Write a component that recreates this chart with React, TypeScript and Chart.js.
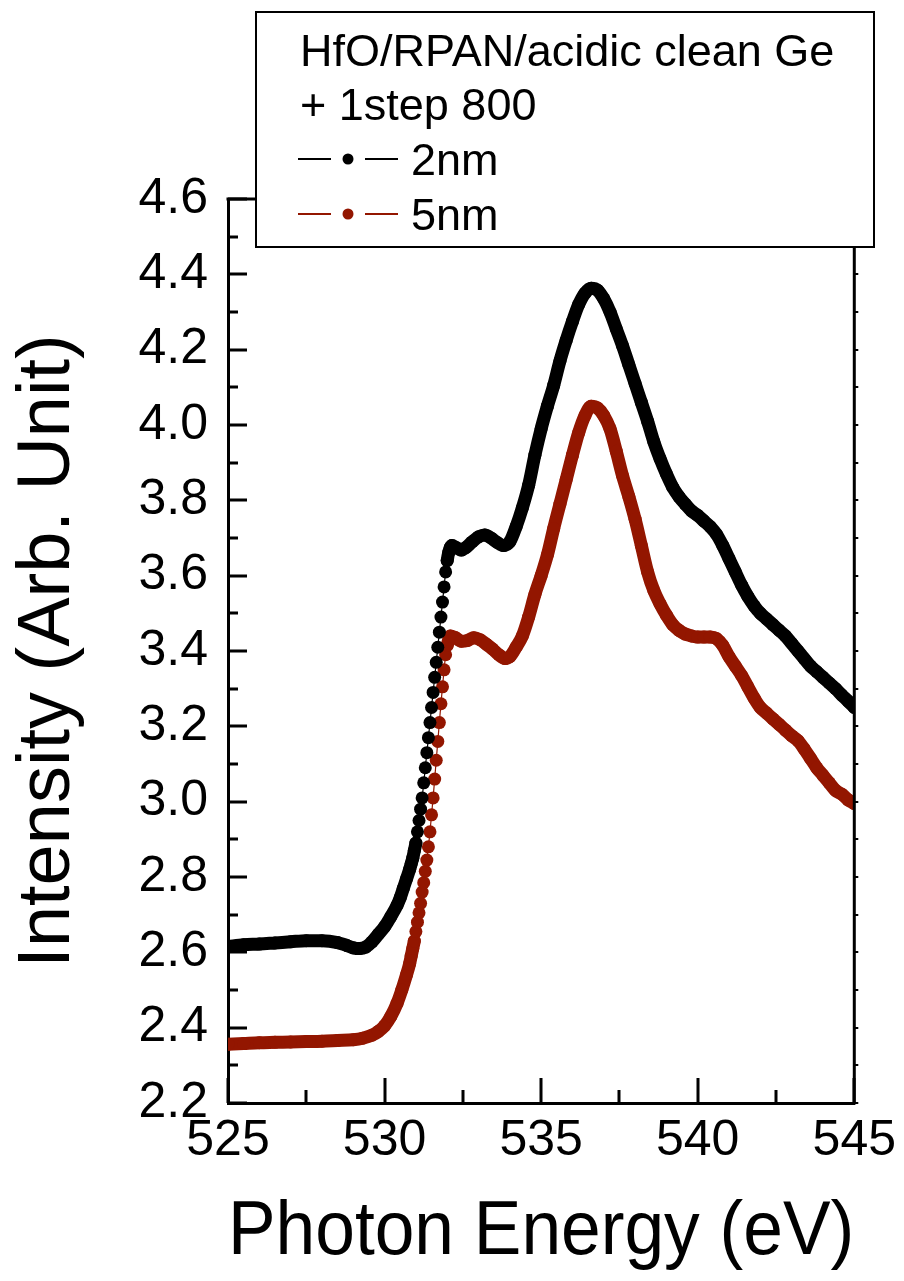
import React, { useEffect, useRef } from "react";
import { Chart, registerables } from "chart.js";

Chart.register(...registerables);

const FONT = '"Liberation Sans", Arial, Helvetica, sans-serif';

const LEGEND_TITLE = ["HfO/RPAN/acidic clean Ge", "+ 1step 800"];
const SERIES_LABELS = ["2nm", "5nm"];
const SERIES_COLORS = ["#000000", "#931600"];

const X_TITLE = "Photon Energy (eV)";
const Y_TITLE = "Intensity (Arb. Unit)";
const X_TICKS = [525, 530, 535, 540, 545];
const Y_TICKS = [2.2, 2.4, 2.6, 2.8, 3.0, 3.2, 3.4, 3.6, 3.8, 4.0, 4.2, 4.4, 4.6];

// 2nm series (black)
const energy2nm = [
  525.0, 525.5, 526.0, 526.5, 527.0, 527.5, 528.0, 528.5, 528.8, 529.0, 529.2, 529.4, 529.6, 529.8,
  530.0, 530.2, 530.4, 530.5, 530.6, 530.7, 530.8, 530.85, 530.9, 530.95, 531.0, 531.05, 531.1,
  531.15, 531.2, 531.25, 531.3, 531.35, 531.4, 531.45, 531.5, 531.55, 531.6, 531.65, 531.7, 531.75,
  531.8, 531.85, 531.9, 531.95, 532.0, 532.05, 532.1, 532.15, 532.3, 532.45, 532.6, 532.8, 533.0,
  533.2, 533.4, 533.6, 533.8, 534.0, 534.2, 534.4, 534.6, 534.8, 535.0, 535.2, 535.4, 535.6, 535.8,
  536.0, 536.2, 536.4, 536.6, 536.8, 537.0, 537.2, 537.4, 537.6, 537.8, 538.0, 538.2, 538.4, 538.6,
  538.8, 539.0, 539.2, 539.4, 539.6, 539.8, 540.0, 540.2, 540.4, 540.6, 540.8, 541.0, 541.2, 541.4,
  541.6, 541.8, 542.0, 542.2, 542.4, 542.6, 542.8, 543.0, 543.2, 543.4, 543.6, 543.8, 544.0, 544.2,
  544.4, 544.6, 544.8, 545.0,
];
const intensity2nm = [
  2.615, 2.62, 2.622, 2.625, 2.628, 2.631, 2.631, 2.626, 2.618, 2.612, 2.61, 2.614, 2.628, 2.648,
  2.668, 2.695, 2.725, 2.745, 2.77, 2.795, 2.82, 2.835, 2.85, 2.87, 2.89, 2.92, 2.95,
  2.98, 3.01, 3.05, 3.09, 3.13, 3.17, 3.21, 3.25, 3.29, 3.33, 3.37, 3.41, 3.45,
  3.49, 3.53, 3.57, 3.61, 3.64, 3.662, 3.675, 3.68, 3.674, 3.668, 3.675, 3.69, 3.703,
  3.708, 3.7, 3.688, 3.68, 3.69, 3.73, 3.78, 3.84, 3.92, 3.99, 4.05, 4.105, 4.17, 4.225,
  4.275, 4.32, 4.35, 4.363, 4.358, 4.335, 4.3, 4.255, 4.21, 4.16, 4.11, 4.06, 4.01, 3.955,
  3.91, 3.87, 3.835, 3.81, 3.79, 3.772, 3.76, 3.745, 3.73, 3.71, 3.68, 3.645, 3.61, 3.575,
  3.545, 3.52, 3.5, 3.485, 3.47, 3.455, 3.44, 3.42, 3.4, 3.38, 3.36, 3.345, 3.33, 3.315,
  3.3, 3.283, 3.267, 3.25,
];

// 5nm series (dark red)
const energy5nm = [
  525.0, 525.5, 526.0, 526.5, 527.0, 527.5, 528.0, 528.5, 529.0, 529.3, 529.6, 529.8, 530.0, 530.2,
  530.4, 530.55, 530.7, 530.8, 530.85, 530.9, 530.95, 531.0, 531.05, 531.1, 531.15, 531.2, 531.25,
  531.3, 531.35, 531.4, 531.45, 531.5, 531.55, 531.6, 531.65, 531.7, 531.75, 531.8, 531.85, 531.9,
  531.95, 532.0, 532.05, 532.1, 532.25, 532.45, 532.65, 532.85, 533.05, 533.25, 533.45, 533.65,
  533.85, 534.0, 534.2, 534.4, 534.6, 534.8, 535.0, 535.2, 535.4, 535.6, 535.8, 536.0, 536.2, 536.4,
  536.6, 536.8, 537.0, 537.2, 537.4, 537.6, 537.8, 538.0, 538.2, 538.4, 538.6, 538.8, 539.0, 539.2,
  539.4, 539.6, 539.8, 540.0, 540.2, 540.4, 540.6, 540.8, 541.0, 541.2, 541.4, 541.6, 541.8, 542.0,
  542.2, 542.4, 542.6, 542.8, 543.0, 543.2, 543.4, 543.6, 543.8, 544.0, 544.2, 544.4, 544.6, 544.8,
  545.0,
];
const intensity5nm = [
  2.356, 2.358, 2.36, 2.361, 2.362, 2.363, 2.364, 2.366, 2.368, 2.372, 2.38, 2.39, 2.405, 2.43,
  2.465, 2.5, 2.54, 2.57, 2.59, 2.61, 2.63, 2.655, 2.68, 2.705, 2.73, 2.76, 2.785,
  2.815, 2.845, 2.88, 2.92, 2.965, 3.01, 3.06, 3.11, 3.16, 3.21, 3.26, 3.305, 3.35,
  3.39, 3.415, 3.43, 3.44, 3.436, 3.426, 3.428, 3.435, 3.43, 3.418, 3.405, 3.39,
  3.38, 3.385, 3.41, 3.44, 3.49, 3.55, 3.6, 3.655, 3.725, 3.79, 3.855, 3.92, 3.98, 4.025,
  4.05, 4.045, 4.025, 3.99, 3.93, 3.865, 3.81, 3.75, 3.68, 3.61, 3.56, 3.525, 3.495, 3.47,
  3.455, 3.445, 3.44, 3.437, 3.437, 3.437, 3.433, 3.415, 3.385, 3.36, 3.335, 3.305, 3.275, 3.25,
  3.235, 3.22, 3.205, 3.19, 3.175, 3.162, 3.14, 3.115, 3.09, 3.07, 3.05, 3.03, 3.02, 3.005,
  2.995,
];

const toPoints = (xs: number[], ys: number[]) => xs.map((x, i) => ({ x, y: ys[i] }));

// segments where consecutive samples are far apart on screen show as separate dots
const sparseSegment = (c: any) => {
  const dx = Math.abs(c.p1.x - c.p0.x);
  const d = Math.hypot(c.p1.x - c.p0.x, c.p1.y - c.p0.y);
  return dx < 3 && d > 9;
};

const framePlugin = {
  id: "frame",
  afterDraw(chart: any) {
    const { ctx, chartArea: a, scales } = chart;
    const xs = scales.x;
    const ys = scales.y;
    ctx.save();
    ctx.fillStyle = "#000";
    // inward ticks on the left axis (major 0.2, minor 0.1)
    for (let i = 0; i < Y_TICKS.length; i++) {
      const p = Math.round(ys.getPixelForValue(Y_TICKS[i]));
      ctx.fillRect(a.left, p - 1.5, 19, 3);
      if (i < Y_TICKS.length - 1) {
        const m = Math.round(ys.getPixelForValue((Y_TICKS[i] + Y_TICKS[i + 1]) / 2));
        ctx.fillRect(a.left, m - 1.5, 10, 3);
      }
    }
    // inward ticks on the bottom axis (major 5, minor 2.5)
    for (let i = 0; i < X_TICKS.length; i++) {
      const p = Math.round(xs.getPixelForValue(X_TICKS[i]));
      ctx.fillRect(p - 1.5, a.bottom - 25, 3, 25);
      if (i < X_TICKS.length - 1) {
        const m = Math.round(xs.getPixelForValue((X_TICKS[i] + X_TICKS[i + 1]) / 2));
        ctx.fillRect(m - 1.5, a.bottom - 13, 3, 13);
      }
    }
    // top and right frame
    ctx.fillRect(a.left - 1.5, a.top - 1.5, a.right - a.left + 3, 3);
    ctx.fillRect(a.right - 1.5, a.top - 1.5, 3, a.bottom - a.top + 3);
    // tiny outward marks on the right axis
    for (let i = 0; i < Y_TICKS.length; i++) {
      const ps = [ys.getPixelForValue(Y_TICKS[i])];
      if (i < Y_TICKS.length - 1) ps.push(ys.getPixelForValue((Y_TICKS[i] + Y_TICKS[i + 1]) / 2));
      ps.forEach((p) => ctx.fillRect(a.right, Math.round(p) - 1, 4, 2));
    }
    ctx.restore();
  },
};

const legendPlugin = {
  id: "boxLegend",
  afterDraw(chart: any) {
    const { ctx } = chart;
    const box = { l: 256, t: 12, r: 874, b: 247 };
    ctx.save();
    ctx.fillStyle = "#ffffff";
    ctx.fillRect(box.l, box.t, box.r - box.l, box.b - box.t);
    ctx.strokeStyle = "#000";
    ctx.lineWidth = 2;
    ctx.strokeRect(box.l, box.t, box.r - box.l, box.b - box.t);
    ctx.font = `45px ${FONT}`;
    ctx.fillStyle = "#000";
    ctx.textBaseline = "alphabetic";
    ctx.textAlign = "left";
    const baselines = [66, 120, 175, 230];
    LEGEND_TITLE.forEach((line, i) => ctx.fillText(line, 300, baselines[i]));
    chart.data.datasets.forEach((ds: any, i: number) => {
      const base = baselines[LEGEND_TITLE.length + i];
      const cy = base - 16;
      ctx.strokeStyle = ds.borderColor;
      ctx.lineWidth = 2;
      ctx.beginPath();
      ctx.moveTo(298, cy);
      ctx.lineTo(331, cy);
      ctx.moveTo(365, cy);
      ctx.lineTo(398, cy);
      ctx.stroke();
      ctx.fillStyle = ds.borderColor;
      ctx.beginPath();
      ctx.arc(348, cy, 5.5, 0, Math.PI * 2);
      ctx.fill();
      ctx.fillStyle = "#000";
      ctx.fillText(ds.label, 411, base);
    });
    ctx.restore();
  },
};

export default function App() {
  const ref = useRef<HTMLCanvasElement>(null);
  useEffect(() => {
    document.body.style.margin = "0";
    const canvas = ref.current;
    if (!canvas) return;
    Chart.defaults.font.family = FONT;
    Chart.defaults.color = "#000";
    const makeDs = (label: string, color: string, xs: number[], ys: number[]) => ({
      label,
      data: toPoints(xs, ys),
      borderColor: color,
      backgroundColor: color,
      borderWidth: 13,
      borderCapStyle: "round" as const,
      borderJoinStyle: "round" as const,
      pointRadius: 6.5,
      pointHoverRadius: 6.5,
      pointBorderWidth: 0,
      pointBackgroundColor: color,
      cubicInterpolationMode: "monotone" as const,
      clip: 0,
      segment: {
        borderWidth: (c: any) => (sparseSegment(c) ? 1.2 : undefined),
      },
    });
    const chart = new Chart(canvas, {
      type: "line",
      data: {
        datasets: [
          makeDs(SERIES_LABELS[0], SERIES_COLORS[0], energy2nm, intensity2nm),
          makeDs(SERIES_LABELS[1], SERIES_COLORS[1], energy5nm, intensity5nm),
        ],
      },
      options: {
        responsive: false,
        devicePixelRatio: 1,
        animation: false,
        events: [],
        layout: { padding: { top: 199, right: 47, left: 0, bottom: 0 } },
        plugins: { legend: { display: false }, tooltip: { enabled: false } },
        scales: {
          x: {
            type: "linear",
            min: 525,
            max: 545,
            afterBuildTicks: (s: any) => {
              s.ticks = X_TICKS.map((v) => ({ value: v }));
            },
            afterFit: (s: any) => {
              s.height = 178;
            },
            grid: { display: false, drawTicks: false },
            border: { display: true, color: "#000", width: 3 },
            ticks: {
              padding: 8,
              maxRotation: 0,
              autoSkip: false,
              font: { size: 50, family: FONT },
              color: "#000",
              callback: (v: any) => String(v),
            },
            title: {
              display: true,
              text: X_TITLE,
              color: "#000",
              font: { size: 76, family: FONT },
              padding: { top: 0, bottom: 2 },
            },
          },
          y: {
            type: "linear",
            min: 2.2,
            max: 4.6,
            afterBuildTicks: (s: any) => {
              s.ticks = Y_TICKS.map((v) => ({ value: v }));
            },
            afterFit: (s: any) => {
              s.width = 228;
            },
            grid: { display: false, drawTicks: false },
            border: { display: true, color: "#000", width: 3 },
            ticks: {
              padding: 20,
              autoSkip: false,
              font: { size: 50, family: FONT },
              color: "#000",
              callback: (v: any) => Number(v).toFixed(1),
            },
            title: {
              display: true,
              text: Y_TITLE,
              color: "#000",
              font: { size: 74, family: FONT },
              padding: { top: 4, bottom: 0 },
            },
          },
        },
      },
      plugins: [framePlugin, legendPlugin],
    } as any);
    return () => chart.destroy();
  }, []);
  return (
    <div style={{ width: 904, height: 1281, background: "#fff" }}>
      <canvas
        ref={ref}
        width={904}
        height={1281}
        style={{ display: "block", width: 904, height: 1281 }}
      />
    </div>
  );
}
